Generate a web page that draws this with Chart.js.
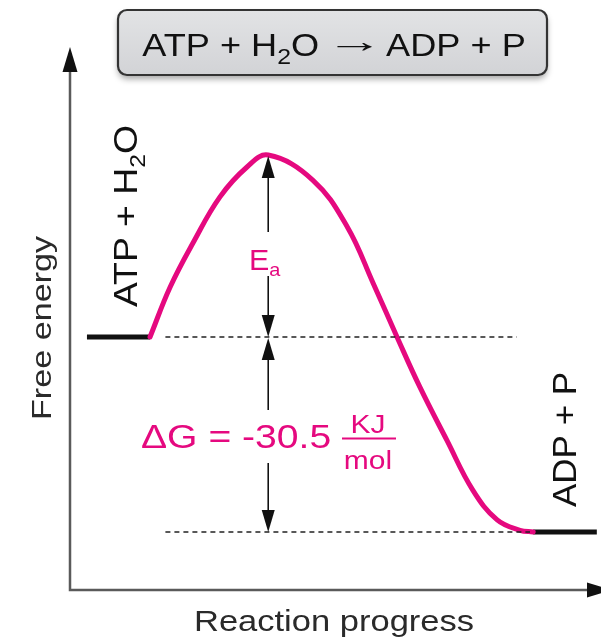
<!DOCTYPE html>
<html>
<head>
<meta charset="utf-8">
<script src="https://cdn.jsdelivr.net/npm/chart.js@4.4.1/dist/chart.umd.min.js"></script>
<style>
html,body{margin:0;padding:0;background:#fff;}
#wrap{width:601px;height:643px;position:relative;}
</style>
</head>
<body>
<div id="wrap"><canvas id="c" width="601" height="643"></canvas></div>
<script>
// Reaction progress (0-100) and free energy (arbitrary units 0-100)
const progress = [15.1, 18.9, 23.2, 28.3, 33.4, 37.4, 45.8, 52.3, 57.2, 61.7, 66.0, 71.1, 76.0, 80.6, 84.9, 87.4];
const energy   = [46.6, 55.8, 63.9, 72.4, 77.9, 80.1, 75.5, 66.9, 56.5, 46.6, 37.4, 27.6, 18.4, 12.9, 11.0, 10.7];
const reactantLevel = 46.6;
const productLevel = 10.7;
const reactantRange = [3.2, 15.1];
const productRange = [87.4, 99.4];
const dashedUpperRange = [18.0, 84.3];
const dashedLowerRange = [18.0, 86.8];
const transitionX = 37.4;
const peakEnergy = 80.1;

const MAGENTA = '#e5097f';
const FONT = '"Liberation Sans", Arial, Helvetica, sans-serif';

function pts(xs, ys){ return xs.map((x,i)=>({x:x, y:ys[i]})); }

function drawRuns(ctx, runs, x, y, opts){
  const sx = opts.sx || 1;
  ctx.save();
  let total = 0;
  runs.forEach(r=>{ ctx.font = r.size+'px '+(r.font||FONT); r.w = ctx.measureText(r.t).width*(r.sx||1); total += r.w; });
  ctx.translate(x, y);
  if (opts.rot) ctx.rotate(opts.rot);
  ctx.scale(sx, 1);
  let start = 0;
  if (opts.align === 'center') start = -total/2;
  else if (opts.align === 'right') start = -total;
  ctx.fillStyle = opts.color || '#111';
  ctx.textBaseline = 'alphabetic';
  ctx.textAlign = 'left';
  let cx = start;
  runs.forEach(r=>{
    ctx.font = r.size+'px '+(r.font||FONT);
    ctx.save(); ctx.translate(cx, r.dy||0); ctx.scale(r.sx||1, 1); ctx.fillText(r.t, 0, 0); ctx.restore();
    cx += r.w;
  });
  ctx.restore();
}

function arrowHead(ctx, x, y, dir, len, half, color){
  ctx.save();
  ctx.fillStyle = color;
  ctx.beginPath();
  if (dir==='up'){ ctx.moveTo(x,y); ctx.lineTo(x-half,y+len); ctx.lineTo(x+half,y+len); }
  else if (dir==='down'){ ctx.moveTo(x,y); ctx.lineTo(x-half,y-len); ctx.lineTo(x+half,y-len); }
  else { ctx.moveTo(x,y); ctx.lineTo(x-len,y-half); ctx.lineTo(x-len,y+half); }
  ctx.closePath(); ctx.fill();
  ctx.restore();
}

function vline(ctx, x, y1, y2, w, color){
  ctx.save(); ctx.strokeStyle=color; ctx.lineWidth=w; ctx.beginPath(); ctx.moveTo(x,y1); ctx.lineTo(x,y2); ctx.stroke(); ctx.restore();
}

const decor = {
  id:'decor',
  beforeDatasetsDraw(chart){
    const ctx = chart.ctx, a = chart.chartArea;
    ctx.save();
    ctx.strokeStyle = '#5a5a5a'; ctx.lineWidth = 2.5;
    ctx.beginPath();
    ctx.moveTo(a.left, a.top+20); ctx.lineTo(a.left, a.bottom); ctx.lineTo(a.right+5, a.bottom);
    ctx.stroke();
    ctx.restore();
    arrowHead(ctx, a.left, a.top, 'up', 25, 7.5, '#111');
    arrowHead(ctx, a.right+12, a.bottom, 'right', 25, 7.5, '#111');
  },
  afterDatasetsDraw(chart){
    const ctx = chart.ctx, xs = chart.scales.x, ys = chart.scales.y;
    const ax = xs.getPixelForValue(transitionX);
    const yPeak = ys.getPixelForValue(peakEnergy);
    const yR = ys.getPixelForValue(reactantLevel);
    const yP = ys.getPixelForValue(productLevel);
    // Ea arrow
    vline(ctx, ax, yPeak+18, 232, 1.6, '#111');
    vline(ctx, ax, 276, yR-18, 1.6, '#111');
    arrowHead(ctx, ax, yPeak+1, 'up', 22, 6.5, '#111');
    arrowHead(ctx, ax, yR, 'down', 22, 6.5, '#111');
    // dG arrow
    vline(ctx, ax, yR+18, 410, 1.6, '#111');
    vline(ctx, ax, 463, yP-18, 1.6, '#111');
    arrowHead(ctx, ax, yR+1, 'up', 22, 6.5, '#111');
    arrowHead(ctx, ax, yP, 'down', 22, 6.5, '#111');

    // Ea label
    drawRuns(ctx, [{t:'E', size:29},{t:'a', size:19, dy:6}], 249, 270, {color:MAGENTA, sx:1.05});
    // dG label
    drawRuns(ctx, [{t:'\u0394G = -30.5', size:34}], 141, 448, {color:MAGENTA, sx:1.15});
    drawRuns(ctx, [{t:'KJ', size:25}], 368, 433, {color:MAGENTA, align:'center', sx:1.2});
    drawRuns(ctx, [{t:'mol', size:25}], 368, 469, {color:MAGENTA, align:'center', sx:1.2});
    ctx.save(); ctx.strokeStyle = MAGENTA; ctx.lineWidth = 2; ctx.beginPath(); ctx.moveTo(342,438.5); ctx.lineTo(396,438.5); ctx.stroke(); ctx.restore();

    // species labels
    drawRuns(ctx, [{t:'ATP + H', size:33},{t:'2', size:22, dy:8},{t:'O', size:33}], 137, 307, {rot:-Math.PI/2, sx:1.13, color:'#111'});
    drawRuns(ctx, [{t:'ADP + P', size:33}], 576, 507, {rot:-Math.PI/2, sx:1.06, color:'#111'});

    // axis titles
    drawRuns(ctx, [{t:'Free energy', size:28}], 51, 328, {rot:-Math.PI/2, align:'center', sx:1.22, color:'#2a2a2a'});
    drawRuns(ctx, [{t:'Reaction progress', size:29}], 334, 631, {align:'center', sx:1.19, color:'#2a2a2a'});

    // title box
    ctx.save();
    const bx=118, by=10, bw=429, bh=65, r=9;
    ctx.shadowColor='rgba(0,0,0,0.35)'; ctx.shadowBlur=6; ctx.shadowOffsetY=4;
    const g = ctx.createLinearGradient(0,by,0,by+bh);
    g.addColorStop(0,'#e2e3e5'); g.addColorStop(1,'#d2d3d6');
    ctx.fillStyle = g;
    ctx.beginPath(); ctx.roundRect(bx,by,bw,bh,r); ctx.fill();
    ctx.shadowColor='transparent';
    ctx.strokeStyle='#333'; ctx.lineWidth=2.2; ctx.stroke();
    ctx.restore();
    drawRuns(ctx, [
      {t:'ATP + H', size:32},{t:'2', size:22, dy:8},{t:'O', size:32},{t:' ', size:32, sx:0.6},
      {t:'\u2192', size:32, sx:1.6, dy:-4},{t:' ', size:32, sx:0.3},{t:'ADP + P', size:32}
    ], 334, 56, {align:'center', sx:1.13, color:'#111'});
  }
};

const lineDs = (data, color, width, dash) => ({
  data: data, borderColor: color, borderWidth: width, borderDash: dash||[],
  pointRadius: 0, fill: false, tension: 0, borderCapStyle: 'butt'
});

new Chart(document.getElementById('c'), {
  type: 'line',
  data: {
    datasets: [
      lineDs([{x:dashedUpperRange[0],y:reactantLevel},{x:dashedUpperRange[1],y:reactantLevel}], '#222', 1.5, [5,4]),
      lineDs([{x:dashedLowerRange[0],y:productLevel},{x:dashedLowerRange[1],y:productLevel}], '#222', 1.5, [5,4]),
      Object.assign(lineDs(pts(progress, energy), MAGENTA, 5), {tension: 0.4, borderCapStyle:'round', borderJoinStyle:'round'}),
      lineDs([{x:reactantRange[0],y:reactantLevel},{x:reactantRange[1],y:reactantLevel}], '#111', 5),
      lineDs([{x:productRange[0],y:productLevel},{x:productRange[1],y:productLevel}], '#111', 5)
    ]
  },
  options: {
    responsive: false,
    animation: false,
    events: [],
    layout: { padding: { left: 70, right: 1, top: 47, bottom: 53 } },
    scales: {
      x: { type: 'linear', min: 0, max: 100, display: false },
      y: { type: 'linear', min: 0, max: 100, display: false }
    },
    plugins: { legend: { display: false }, tooltip: { enabled: false } }
  },
  plugins: [decor]
});
</script>
</body>
</html>
